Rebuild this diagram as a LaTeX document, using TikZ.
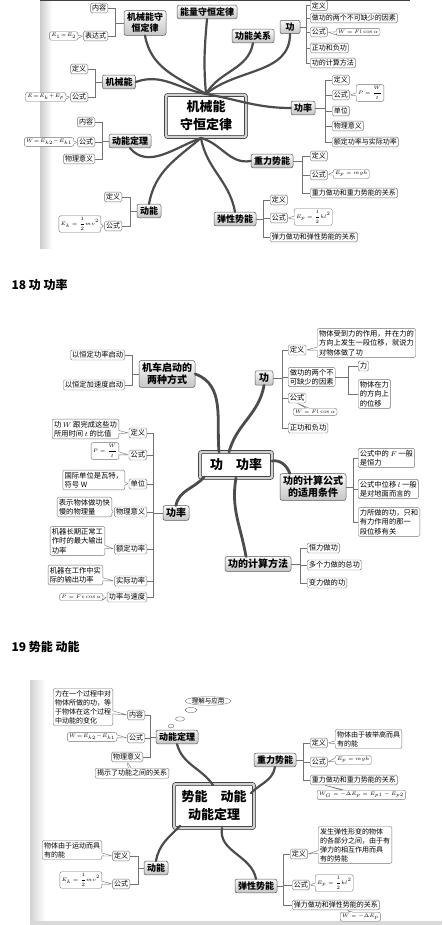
\documentclass[tikz,border=0pt]{standalone}
\usepackage{fontspec}
\newfontfamily\cjk{Noto Sans CJK SC}
\usetikzlibrary{shapes.callouts,shapes.geometric}

\begin{document}
\begin{tikzpicture}[
  x=1pt, y=-1pt,
  font=\cjk\fontsize{7}{9}\selectfont,
  leaf/.style={rectangle, rounded corners=1.5pt, draw=black!55, line width=0.4pt, fill=white,
               inner sep=1.6pt, align=center},
  note/.style={rectangle callout, rounded corners=2pt, draw=black!55, line width=0.4pt, fill=white,
               inner sep=1.8pt, align=left, callout pointer width=3pt},
  fml/.style={font=\fontsize{5.5}{7}\selectfont},
  topic/.style={rectangle, rounded corners=2pt, draw=black!65, line width=0.5pt,
                top color=gray!5, bottom color=gray!45, inner xsep=3pt, inner ysep=2.5pt,
                align=center, font=\cjk\bfseries\fontsize{9}{11}\selectfont},
  topicL/.style={topic, font=\cjk\bfseries\fontsize{10}{12}\selectfont},
  hub/.style={rectangle, rounded corners=2pt, draw=black!80, line width=0.7pt, double=gray!35,
              double distance=2.5pt, fill=white, align=center, font=\cjk\bfseries\fontsize{13}{18}\selectfont},
  branch/.style={draw=black!70, line width=2.2pt, line cap=round},
  brk/.style={draw=black!55, line width=0.4pt},
  head/.style={anchor=base west, font=\cjk\bfseries\fontsize{12}{14}\selectfont}
]
\useasboundingbox[fill=white] (0,0) rectangle (442,925);

\shade[left color=gray!40, right color=white] (40,0) rectangle (52,248);
\draw[black!75, line width=1.5pt] (40,0.75) -- (410,0.75);

\node[hub, minimum width=80pt, minimum height=42pt] (hubA) at (206,116) {机械能\\守恒定律};
\node[topic] (tShou) at (145,23) {机械能守\\恒定律};
\node[topic] (tNeng) at (207,12) {能量守恒定律};
\node[topic] (tGnGx) at (253,36) {功能关系};
\node[topic, minimum width=20pt] (tGong) at (290,27) {功};
\node[topic] (tJxn) at (119,82) {机械能};
\node[topic] (tDndl) at (130,141) {动能定理};
\node[topic] (tDn) at (149,211) {动能};
\node[topic] (tZl) at (272,161) {重力势能};
\node[topic] (tTx) at (235,219) {弹性势能};
\node[topic] (tGl) at (303,108) {功率};

\coordinate (hA1) at (206,94);
\coordinate (hA2) at (201,138);
\draw[branch] (hA1) to[out=150,in=-80] (tShou.south);
\draw[branch] (hA1) to[out=170,in=20] (tJxn.east);
\draw[branch] (hA1) to[out=95,in=-95] (tNeng.south);
\draw[branch] (hA1) to[out=60,in=-100] (tGnGx.south);
\draw[branch] (hA1) to[out=40,in=-90] (tGong.south);
\draw[branch] (hA1) to[out=-10,in=180] (tGl.west);
\draw[branch] (hA2) to[out=200,in=-50] (tDndl.south);
\draw[branch] (hA2) to[out=220,in=80] (tDn.north);
\draw[branch] (hA2) to[out=-80,in=100] (tTx.north);
\draw[branch] (hA2) to[out=-15,in=190] (tZl.west);

\node[leaf, anchor=east] (a1) at (108,8) {内容};
\node[leaf, anchor=east] (a2) at (108,36) {表达式};
\node[note, fml, anchor=east, callout absolute pointer={(a2.west)}] (a3) at (78,36) {$E_1\!=\!E_2$};
\foreach \x in {a1,a2} \draw[brk] (tShou.west) -- +(-9,0) |- (\x.east);

\node[leaf, anchor=east] (b1) at (88,69) {定义};
\node[leaf, anchor=east] (b2) at (88,97) {公式};
\node[note, fml, anchor=east, callout absolute pointer={(b2.west)}] (b3) at (66,97) {$E\!=\!E_k\!+\!E_p$};
\foreach \x in {b1,b2} \draw[brk] (tJxn.west) -- +(-7.5,0) |- (\x.east);

\node[leaf, anchor=east] (c1) at (95,122) {内容};
\node[leaf, anchor=east] (c2) at (95,142) {公式};
\node[leaf, anchor=east] (c3) at (95,159) {物理意义};
\node[note, fml, anchor=east, callout absolute pointer={(c2.west)}] (c4) at (74,142) {$W\!=\!E_{k2}\!-\!E_{k1}$};
\foreach \x in {c1,c2,c3} \draw[brk] (tDndl.west) -- +(-7,0) |- (\x.east);

\node[leaf, anchor=east] (d1) at (122,197) {定义};
\node[leaf, anchor=east] (d2) at (122,226) {公式};
\node[note, fml, anchor=east, callout absolute pointer={(d2.west)}] (d3) at (101,224) {$\displaystyle E_k=\frac{1}{2}mv^2$};
\foreach \x in {d1,d2} \draw[brk] (tDn.west) -- +(-7,0) |- (\x.east);

\node[leaf, anchor=west] (e0) at (310,5.5) {定义};
\node[leaf, anchor=west] (e1) at (310,18) {做功的两个不可缺少的因素};
\node[leaf, anchor=west] (e2) at (310,32) {公式};
\node[note, fml, anchor=west, callout absolute pointer={(e2.east)}] (e3) at (336,32) {$W=Fl\cos\alpha$};
\node[leaf, anchor=west] (e4) at (310,48) {正功和负功};
\node[leaf, anchor=west] (e5) at (310,63) {功的计算方法};
\foreach \x in {e0,e1,e2,e4,e5} \draw[brk] (tGong.east) -- +(6,0) |- (\x.west);

\node[leaf, anchor=west] (f1) at (332,80) {定义};
\node[leaf, anchor=west] (f2) at (332,95) {公式};
\node[note, fml, anchor=west, callout absolute pointer={(f2.east)}] (f3) at (356,93) {$\displaystyle P=\frac{W}{t}$};
\node[leaf, anchor=west] (f4) at (332,111) {单位};
\node[leaf, anchor=west] (f5) at (332,126) {物理意义};
\node[leaf, anchor=west] (f6) at (332,142) {额定功率与实际功率};
\foreach \x in {f1,f2,f4,f5,f6} \draw[brk] (tGl.east) -- +(10,0) |- (\x.west);

\node[leaf, anchor=west] (g1) at (310,156) {定义};
\node[leaf, anchor=west] (g2) at (310,175) {公式};
\node[note, fml, anchor=west, callout absolute pointer={(g2.east)}] (g3) at (333,174) {$E_p=mgh$};
\node[leaf, anchor=west] (g4) at (310,193) {重力做功和重力势能的关系};
\foreach \x in {g1,g2,g4} \draw[brk] (tZl.east) -- +(9,0) |- (\x.west);

\node[leaf, anchor=west] (h1) at (270,200) {定义};
\node[leaf, anchor=west] (h2) at (270,218) {公式};
\node[note, fml, anchor=west, callout absolute pointer={(h2.east)}] (h3) at (294,217) {$\displaystyle E_p=\frac{1}{2}kl^2$};
\node[leaf, anchor=west] (h4) at (270,237) {弹力做功和弹性势能的关系};
\foreach \x in {h1,h2,h4} \draw[brk] (tTx.east) -- +(7,0) |- (\x.west);

\node[head] (h18) at (8,289) {18\ 功\ 功率};

\begin{scope}[font=\cjk\fontsize{7.3}{9.4}\selectfont]
\node[hub, minimum width=72pt, minimum height=26pt] (hubB) at (236,465) {功\hspace{1em}功率};
\node[topicL] (tJc) at (167,374) {机车启动的\\两种方式};
\node[topicL, minimum width=18pt] (tGong2) at (264,378) {功};
\node[topicL] (tGl2) at (176,513) {功率};
\node[topicL] (tSy) at (313,487) {功的计算公式\\的适用条件};
\node[topicL] (tFf) at (258,564) {功的计算方法};

\coordinate (hB1) at (219,452);
\coordinate (hB2) at (229,452);
\coordinate (hB3) at (204,477);
\coordinate (hB4) at (272,461);
\coordinate (hB5) at (236,478);
\draw[branch, line width=2.8pt] (hB1) to[out=95,in=-20] (tJc.east);
\draw[branch, line width=2.8pt] (hB2) to[out=75,in=-100] (tGong2.south);
\draw[branch, line width=2.8pt] (hB3) to[out=230,in=80] (tGl2.north);
\draw[branch, line width=2.8pt] (hB4) to[out=10,in=110] ([xshift=10pt]tSy.north west);
\draw[branch, line width=2.8pt] (hB5) to[out=-100,in=100] ([xshift=-12pt]tFf.north);

\node[leaf, anchor=east] (i1) at (125,355) {以恒定功率启动};
\node[leaf, anchor=east] (i2) at (125,385) {以恒定加速度启动};
\foreach \x in {i1,i2} \draw[brk] (tJc.west) -- +(-7,0) |- (\x.east);

\node[leaf, anchor=west] (j1) at (288,350) {定义};
\node[note, anchor=west, callout absolute pointer={(j1.east)}] (j2) at (317,343) {物体受到力的作用，并在力的\\方向上发生一段位移，就说力\\对物体做了功};
\node[leaf, anchor=west] (j3) at (288,377) {做功的两个不\\可缺少的因素};
\node[leaf, anchor=west] (k1) at (358,366) {力};
\node[leaf, anchor=west, align=left] (k2) at (358,394) {物体在力\\的方向上\\的位移};
\foreach \x in {k1,k2} \draw[brk] (j3.east) -- +(13,0) |- (\x.west);
\node[leaf, anchor=west] (j4) at (288,398) {公式};
\node[note, fml, anchor=north west, callout absolute pointer={(j4.south)}] (j5) at (293,408) {$W=Fl\cos\alpha$};
\node[leaf, anchor=west] (j6) at (288,428) {正功和负功};
\foreach \x in {j1,j3,j4,j6} \draw[brk] (tGong2.east) -- +(9,0) |- (\x.west);

\node[leaf, anchor=east] (l1) at (147,433) {定义};
\node[note, anchor=east, callout absolute pointer={(l1.west)}] (l2) at (119,429) {功 $W$ 跟完成这些功\\所用时间 $t$ 的比值};
\node[leaf, anchor=east] (l3) at (147,455) {公式};
\node[note, fml, anchor=east, callout absolute pointer={(l3.west)}] (l4) at (119,451) {$\displaystyle P=\frac{W}{t}$};
\node[leaf, anchor=east] (l5) at (147,484) {单位};
\node[note, anchor=east, callout absolute pointer={(l5.west)}] (l6) at (125,480) {国际单位是瓦特，\\符号 W};
\node[leaf, anchor=east] (l7) at (147,512) {物理意义};
\node[note, anchor=east, callout absolute pointer={(l7.west)}] (l8) at (112,507) {表示物体做功快\\慢的物理量};
\node[leaf, anchor=east] (l9) at (147,549) {额定功率};
\node[note, anchor=east, callout absolute pointer={(l9.west)}] (l10) at (105,541) {机器长期正常工\\作时的最大输出\\功率};
\node[leaf, anchor=east] (l11) at (147,581) {实际功率};
\node[note, anchor=east, callout absolute pointer={(l11.west)}] (l12) at (103,575) {机器在工作中实\\际的输出功率};
\node[leaf, anchor=east] (l13) at (147,597) {功率与速度};
\node[note, fml, anchor=east, callout absolute pointer={(l13.west)}] (l14) at (103,597) {$P=Fv\cos\alpha$};
\foreach \x in {l1,l3,l5,l7,l9,l11,l13} \draw[brk] (tGl2.west) -- +(-10,0) |- (\x.east);

\node[leaf, anchor=west, align=left] (m1) at (358,458) {公式中的 $F$ 一般\\是恒力};
\node[leaf, anchor=west, align=left] (m2) at (358,489) {公式中位移 $l$ 一般\\是对地面而言的};
\node[leaf, anchor=west, align=left] (m3) at (358,522) {力所做的功，只和\\有力作用的那一\\段位移有关};
\foreach \x in {m1,m2,m3} \draw[brk] (tSy.east) -- +(7,0) |- (\x.west);

\node[leaf, anchor=west] (n1) at (307,548) {恒力做功};
\node[leaf, anchor=west] (n2) at (307,565) {多个力做的总功};
\node[leaf, anchor=west] (n3) at (307,583) {变力做的功};
\foreach \x in {n1,n2,n3} \draw[brk] (tFf.east) -- +(9,0) |- (\x.west);
\end{scope}

\node[head] (h19) at (8,651) {19\ 势能\ 动能};

\shade[left color=gray!35, right color=white] (30,680) rectangle (45,925);
\fill[gray!30] (30,921) rectangle (442,925);

\node[hub, minimum width=80pt, minimum height=44pt] (hubC) at (214,806) {势能\hspace{1em}动能\\动能定理};
\node[topic] (tDndl3) at (177,737) {动能定理};
\node[topic] (tZl3) at (275,760) {重力势能};
\node[topic] (tDn3) at (156,868) {动能};
\node[topic] (tTx3) at (256,886) {弹性势能};

\node[ellipse, draw=black!55, line width=0.4pt, inner sep=0pt, fill=white,
      font=\cjk\fontsize{6.5}{8}\selectfont] (bub) at (208,701) {理解与应用};
\draw[black!55, line width=0.4pt] (191,710) ellipse [x radius=6pt, y radius=2.5pt]
  (180,719) ellipse [x radius=4.5pt, y radius=2.2pt] (171,726) ellipse [x radius=3pt, y radius=1.8pt];

\coordinate (hC1) at (213,785);
\coordinate (hC2) at (251,793);
\coordinate (hC3) at (180,826);
\coordinate (hC4) at (222,828);
\draw[branch] (hC1) to[out=125,in=-75] (tDndl3.south);
\draw[branch] (hC2) to[out=45,in=-100] (tZl3.south);
\draw[branch] (hC3) to[out=225,in=80] (tDn3.north);
\draw[branch] (hC4) to[out=-100,in=100] (tTx3.north);

\node[leaf, anchor=east] (o1) at (145,715) {内容};
\node[note, anchor=east, callout absolute pointer={(o1.west)}] (o2) at (113,707) {力在一个过程中对\\物体所做的功，等\\于物体在这个过程\\中动能的变化};
\node[leaf, anchor=east] (o3) at (145,738) {公式};
\node[note, fml, anchor=east, callout absolute pointer={(o3.west)}] (o4) at (117,737) {$W\!=\!E_{k2}\!-\!E_{k1}$};
\node[leaf, anchor=east] (o5) at (143,757) {物理意义};
\node[note, anchor=north, callout absolute pointer={(o5.south)}] (o6) at (132,768) {揭示了功能之间的关系};
\foreach \x in {o1,o3,o5} \draw[brk] (tDndl3.west) -- +(-6,0) |- (\x.east);

\node[leaf, anchor=west] (p1) at (310,743) {定义};
\node[note, anchor=west, callout absolute pointer={(p1.east)}] (p2) at (335,739) {物体由于被举高而具\\有的能};
\node[leaf, anchor=west] (p3) at (310,762) {公式};
\node[note, fml, anchor=west, callout absolute pointer={(p3.east)}] (p4) at (335,760) {$E_p=mgh$};
\node[leaf, anchor=west] (p5) at (310,780) {重力做功和重力势能的关系};
\node[note, fml, anchor=north west, callout absolute pointer={([xshift=14pt]p5.south west)}] (p6) at (317,790) {$W_G=-\Delta E_p=E_{p1}-E_{p2}$};
\foreach \x in {p1,p3,p5} \draw[brk] (tZl3.east) -- +(7,0) |- (\x.west);

\node[leaf, anchor=east] (q1) at (130,856) {定义};
\node[note, anchor=east, callout absolute pointer={(q1.west)}] (q2) at (102,850) {物体由于运动而具\\有的能};
\node[leaf, anchor=east] (q3) at (130,884) {公式};
\node[note, fml, anchor=east, callout absolute pointer={(q3.west)}] (q4) at (102,880) {$\displaystyle E_k=\frac{1}{2}mv^2$};
\foreach \x in {q1,q3} \draw[brk] (tDn3.west) -- +(-6,0) |- (\x.east);

\node[leaf, anchor=west] (r1) at (290,854) {定义};
\node[note, anchor=west, callout absolute pointer={(r1.east)}] (r2) at (318,845) {发生弹性形变的物体\\的各部分之间，由于有\\弹力的相互作用而具\\有的势能};
\node[leaf, anchor=west] (r3) at (292,885) {公式};
\node[note, fml, anchor=west, callout absolute pointer={(r3.east)}] (r4) at (315,883) {$\displaystyle E_p=\frac{1}{2}kl^2$};
\node[leaf, anchor=west] (r5) at (292,905) {弹力做功和弹性势能的关系};
\node[note, fml, anchor=north west, callout absolute pointer={([xshift=55pt]r5.south west)}] (r6) at (340,912) {$W=-\Delta E_p$};
\foreach \x in {r1,r3,r5} \draw[brk] (tTx3.east) -- +(6,0) |- (\x.west);
\end{tikzpicture}
\end{document}
